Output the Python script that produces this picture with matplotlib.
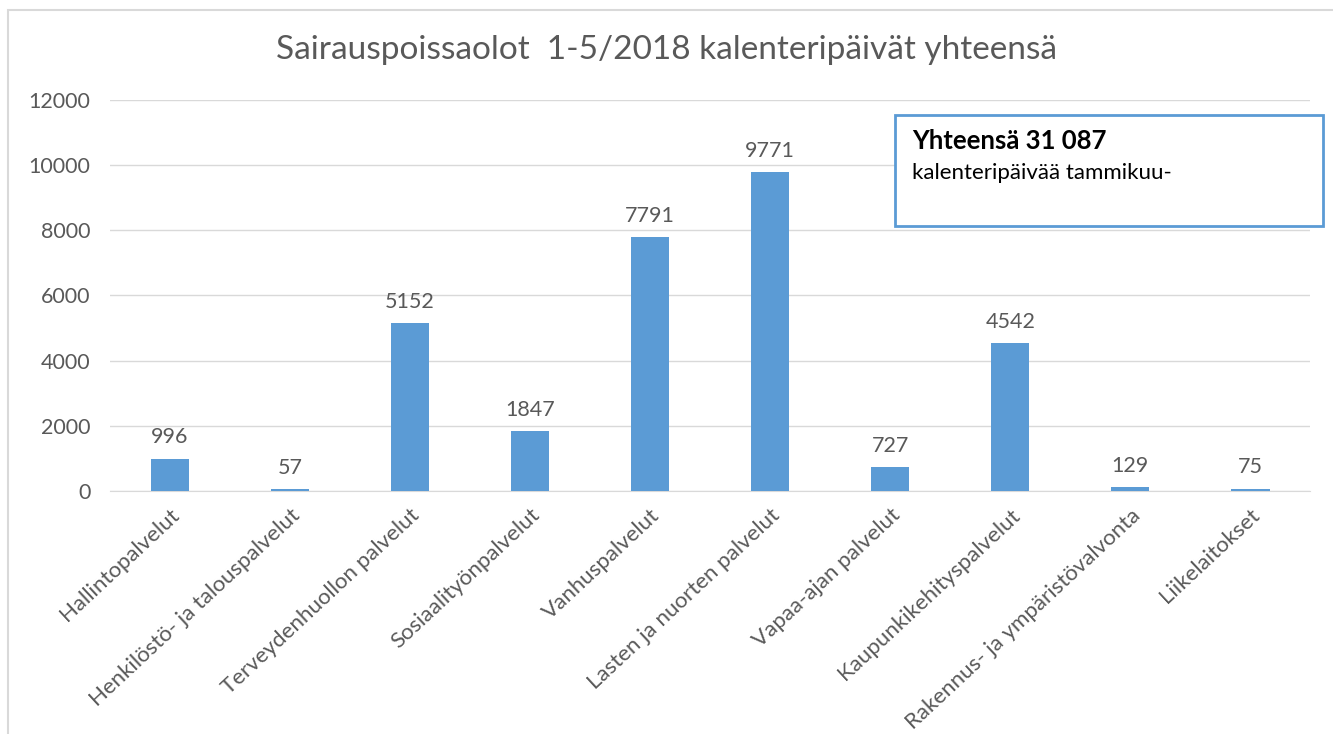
import numpy as np
import matplotlib
matplotlib.use("Agg")
import matplotlib.pyplot as plt
from matplotlib.patches import Rectangle

# data
categories = ["Hallintopalvelut", "Henkilöstö- ja talouspalvelut", "Terveydenhuollon palvelut",
              "Sosiaalityönpalvelut", "Vanhuspalvelut", "Lasten ja nuorten palvelut",
              "Vapaa-ajan palvelut", "Kaupunkikehityspalvelut",
              "Rakennus- ja ympäristövalvonta", "Liikelaitokset"]
values = [996, 57, 5152, 1847, 7791, 9771, 727, 4542, 129, 75]
yticks = [0, 2000, 4000, 6000, 8000, 10000, 12000]

plt.rcParams['font.family'] = ['Lato', 'DejaVu Sans']
gray = "#595959"

fig = plt.figure(figsize=(13.33, 7.34), dpi=100)
ax = fig.add_axes([0.0825, 0.331, 0.9005, 0.533])

x = np.arange(len(categories))
ax.bar(x, values, width=0.32, color="#5B9BD5", zorder=3)
for xi, v in zip(x, values):
    ax.annotate(str(v), (xi, v), xytext=(0, 8), textcoords="offset points",
                ha="center", va="bottom", fontsize=15.5, color=gray)

ax.set_xlim(-0.5, len(categories) - 0.5)
ax.set_ylim(0, 12000)
ax.set_yticks(yticks)
ax.set_yticklabels([str(t) for t in yticks], fontsize=15.5, color=gray)
ax.set_xticks(x)
ax.set_xticklabels(categories, rotation=43, ha="right", rotation_mode="anchor",
                   fontsize=16, color=gray)
ax.tick_params(axis="both", length=0, pad=10)
ax.tick_params(axis="y", pad=14)
ax.grid(axis="y", color="#D9D9D9", linewidth=1, zorder=0)
for s in ["top", "right", "left"]:
    ax.spines[s].set_visible(False)
ax.spines["bottom"].set_color("#D9D9D9")

fig.text(0.5, 0.932, "Sairauspoissaolot  1-5/2018 kalenteripäivät yhteensä",
         ha="center", va="center", fontsize=24, color=gray)

# text box
fig.patches.append(Rectangle((895 / 1333, 1 - 226 / 734), 428 / 1333, 111 / 734,
                             transform=fig.transFigure, fill=True, facecolor="white",
                             edgecolor="#5B9BD5", linewidth=2, zorder=5))
fig.text(912 / 1333, 1 - 141 / 734, "Yhteensä 31 087", fontsize=18.5, fontweight="bold",
         color="black", va="center", zorder=6)
fig.text(912 / 1333, 1 - 173 / 734, "kalenteripäivää tammikuu-", fontsize=16,
         color="black", va="center", zorder=6)

# outer frame
fig.patches.append(Rectangle((8 / 1333, -0.01), 1.1, 1 - 10 / 734 + 0.01,
                             transform=fig.transFigure, fill=False,
                             edgecolor="#D9D9D9", linewidth=1.5))

fig.savefig("out.png", dpi=100)
